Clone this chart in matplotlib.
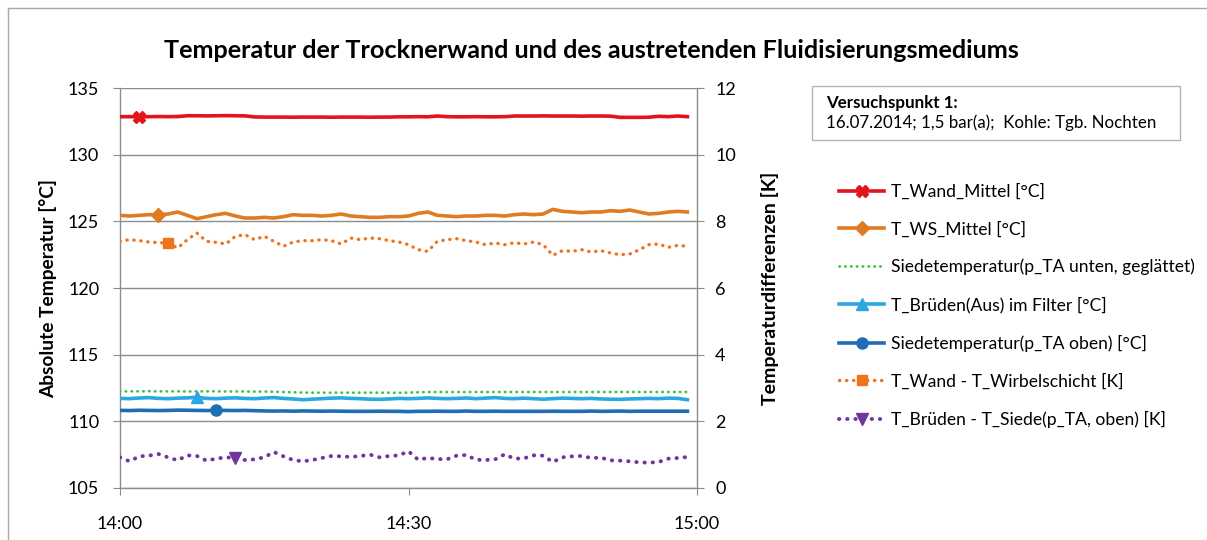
import matplotlib
matplotlib.use("Agg")
from matplotlib import pyplot as plt
import matplotlib.dates as mdates
from matplotlib.lines import Line2D
from matplotlib.patches import Rectangle
import numpy as np
import pandas as pd

plt.rcParams["font.family"] = ["Lato", "DejaVu Sans"]

# one reading per minute, 14:00 - 14:59
zeit = pd.date_range("2014-07-16 14:00", periods=60, freq="min")

t_wand = [132.85, 132.85, 132.84, 132.85, 132.86, 132.85, 132.86, 132.92, 132.92, 132.91,
          132.92, 132.93, 132.92, 132.91, 132.83, 132.82, 132.82, 132.82, 132.81, 132.82,
          132.82, 132.82, 132.81, 132.82, 132.82, 132.82, 132.81, 132.82, 132.82, 132.84,
          132.84, 132.85, 132.84, 132.9, 132.85, 132.84, 132.84, 132.85, 132.84, 132.84,
          132.85, 132.9, 132.9, 132.9, 132.91, 132.9, 132.9, 132.9, 132.89, 132.9,
          132.9, 132.89, 132.8, 132.8, 132.8, 132.81, 132.88, 132.85, 132.9, 132.85]

t_ws = [125.45, 125.4, 125.45, 125.5, 125.5, 125.55, 125.7, 125.45, 125.2, 125.35,
        125.5, 125.6, 125.4, 125.25, 125.25, 125.3, 125.25, 125.35, 125.5, 125.45,
        125.45, 125.4, 125.45, 125.55, 125.4, 125.35, 125.3, 125.3, 125.35, 125.35,
        125.4, 125.6, 125.7, 125.45, 125.4, 125.35, 125.4, 125.4, 125.45, 125.45,
        125.4, 125.5, 125.55, 125.5, 125.55, 125.9, 125.75, 125.7, 125.65, 125.7,
        125.7, 125.8, 125.75, 125.85, 125.7, 125.55, 125.6, 125.7, 125.75, 125.7]

t_siede_unten = [112.25, 112.25, 112.25, 112.26, 112.25, 112.25, 112.25, 112.24, 112.25, 112.25,
                 112.25, 112.24, 112.24, 112.24, 112.23, 112.23, 112.22, 112.2, 112.18, 112.16,
                 112.15, 112.15, 112.15, 112.15, 112.15, 112.15, 112.15, 112.15, 112.15, 112.14,
                 112.16, 112.18, 112.2, 112.2, 112.2, 112.2, 112.2, 112.2, 112.2, 112.2,
                 112.2, 112.2, 112.2, 112.2, 112.2, 112.2, 112.2, 112.2, 112.2, 112.2,
                 112.2, 112.2, 112.2, 112.2, 112.2, 112.2, 112.2, 112.2, 112.2, 112.2]

t_brueden = [111.72, 111.7, 111.75, 111.78, 111.72, 111.7, 111.74, 111.76, 111.8, 111.72,
             111.7, 111.74, 111.76, 111.72, 111.7, 111.75, 111.78, 111.72, 111.68, 111.62,
             111.66, 111.7, 111.74, 111.76, 111.72, 111.7, 111.66, 111.65, 111.68, 111.72,
             111.7, 111.72, 111.76, 111.72, 111.7, 111.72, 111.75, 111.7, 111.74, 111.78,
             111.72, 111.7, 111.74, 111.7, 111.66, 111.7, 111.74, 111.72, 111.7, 111.72,
             111.68, 111.66, 111.65, 111.68, 111.7, 111.72, 111.7, 111.74, 111.72, 111.62]

t_siede_oben = [110.82, 110.81, 110.83, 110.82, 110.81, 110.82, 110.84, 110.83, 110.82, 110.81,
                110.82, 110.82, 110.81, 110.82, 110.8, 110.78, 110.77, 110.78, 110.76, 110.78,
                110.77, 110.76, 110.77, 110.76, 110.75, 110.75, 110.75, 110.76, 110.75, 110.75,
                110.73, 110.75, 110.75, 110.76, 110.75, 110.75, 110.77, 110.75, 110.75, 110.76,
                110.75, 110.75, 110.75, 110.75, 110.75, 110.76, 110.75, 110.75, 110.75, 110.77,
                110.75, 110.76, 110.77, 110.75, 110.76, 110.76, 110.76, 110.76, 110.76, 110.76]

# differences, right axis [K]
dt_wand_ws = [7.4, 7.45, 7.42, 7.38, 7.36, 7.35, 7.2, 7.45, 7.65, 7.4,
              7.37, 7.32, 7.55, 7.6, 7.45, 7.55, 7.4, 7.25, 7.38, 7.42,
              7.42, 7.45, 7.42, 7.32, 7.5, 7.45, 7.5, 7.48, 7.42, 7.38,
              7.3, 7.15, 7.1, 7.4, 7.45, 7.48, 7.42, 7.38, 7.3, 7.35,
              7.3, 7.36, 7.32, 7.38, 7.3, 6.98, 7.12, 7.1, 7.15, 7.08,
              7.12, 7.05, 7.0, 7.02, 7.15, 7.3, 7.32, 7.22, 7.28, 7.25]

dt_brueden_siede = [0.92, 0.8, 0.95, 0.97, 1.02, 0.92, 0.83, 0.98, 0.96, 0.82,
                    0.88, 0.92, 0.9, 0.84, 0.86, 0.92, 1.08, 0.95, 0.84, 0.8,
                    0.84, 0.9, 0.96, 0.95, 0.93, 0.96, 1.0, 0.92, 0.96, 0.98,
                    1.1, 0.85, 0.9, 0.87, 0.86, 0.97, 0.99, 0.85, 0.84, 0.86,
                    1.01, 0.88, 0.89, 0.98, 0.97, 0.78, 0.92, 0.95, 0.96, 0.9,
                    0.91, 0.83, 0.82, 0.8, 0.77, 0.76, 0.78, 0.88, 0.9, 0.93]

grau = "#8c8c8c"
dots = (0, (0.1, 2.0))

fig = plt.figure(figsize=(12.07, 5.40), dpi=100)
ax = fig.add_axes([0.0994, 0.0963, 0.4781, 0.7407])
ax2 = ax.twinx()

# left axis: absolute temperatures
ax.plot(zeit, t_wand, color="#E3141B", lw=2.6, marker="X", ms=9, markevery=[2],
        label="T_Wand_Mittel [°C]", zorder=5)
ax.plot(zeit, t_ws, color="#E07B24", lw=2.6, marker="D", ms=7, markevery=[4],
        label="T_WS_Mittel [°C]", zorder=5)
ax.plot(zeit, t_siede_unten, color="#3CC13C", lw=2.0, ls=dots, dash_capstyle="round",
        label="Siedetemperatur(p_TA unten, geglättet)", zorder=4)
ax.plot(zeit, t_brueden, color="#2AA8E0", lw=2.6, marker="^", ms=8, markevery=[8],
        label="T_Brüden(Aus) im Filter [°C]", zorder=5)
ax.plot(zeit, t_siede_oben, color="#1F6DB5", lw=2.6, marker="o", ms=8, markevery=[10],
        label="Siedetemperatur(p_TA oben) [°C]", zorder=5)

# right axis: differences
ax2.plot(zeit, dt_wand_ws, color="#F0731C", lw=2.4, ls=dots, dash_capstyle="round",
         marker="s", ms=7, markevery=[5], label="T_Wand - T_Wirbelschicht [K]")
ax2.plot(zeit, dt_brueden_siede, color="#7035A0", lw=2.8, ls=dots, dash_capstyle="round",
         marker="v", ms=8, markevery=[12], label="T_Brüden - T_Siede(p_TA, oben) [K]")

start = pd.Timestamp("2014-07-16 14:00")
ax.set_xlim(start, start + pd.Timedelta(minutes=60))
ax.set_xticks([start, start + pd.Timedelta(minutes=30), start + pd.Timedelta(minutes=60)])
ax.xaxis.set_major_formatter(mdates.DateFormatter("%H:%M"))

ax.set_ylim(105, 135)
ax.set_yticks(np.arange(105, 136, 5))
ax2.set_ylim(0, 12)
ax2.set_yticks(np.arange(0, 13, 2))

ax.grid(axis="y", color=grau, lw=1.0)
ax.set_axisbelow(True)
for a in (ax, ax2):
    a.spines["top"].set_visible(False)
    for s in ("left", "right", "bottom"):
        a.spines[s].set_color(grau)
        a.spines[s].set_linewidth(1.0)
ax.spines["right"].set_visible(False)
ax2.spines["left"].set_visible(False)
ax2.spines["bottom"].set_visible(False)

ax.tick_params(axis="y", length=5, color=grau, labelsize=13, pad=10)
ax.tick_params(axis="x", length=5, color=grau, labelsize=13, pad=15)
ax2.tick_params(axis="y", length=5, color=grau, labelsize=13, pad=8)

ax.set_ylabel("Absolute Temperatur [°C]", fontsize=13.8, fontweight="bold", labelpad=8)
ax2.set_ylabel("Temperaturdifferenzen [K]", fontsize=14, fontweight="bold", labelpad=18)

fig.suptitle("Temperatur der Trocknerwand und des austretenden Fluidisierungsmediums",
             x=0.49, y=1 - 50 / 540, va="center", fontsize=18.2, fontweight="bold")

# info box
fig.add_artist(Rectangle((812 / 1207, 1 - 140 / 540), 368 / 1207, 54 / 540,
                         transform=fig.transFigure, fill=False, edgecolor="#b4b4b4", lw=1.0))
fig.text(826 / 1207, 1 - 103 / 540, "Versuchspunkt 1:", fontsize=12.2, fontweight="bold",
         va="center")
fig.text(826 / 1207, 1 - 123 / 540, "16.07.2014; 1,5 bar(a);  Kohle: Tgb. Nochten",
         fontsize=12.2, va="center")

h1, l1 = ax.get_legend_handles_labels()
h2, l2 = ax2.get_legend_handles_labels()
fig.legend(h1 + h2, l1 + l2, loc="upper left", bbox_to_anchor=(823 / 1207, 1 - 168 / 540),
           frameon=False, fontsize=12.6, handlelength=2.6, handletextpad=0.4,
           labelspacing=1.22, numpoints=1)

# outer chart frame
fig.add_artist(Line2D([8 / 1207, 8 / 1207], [0, 1 - 8 / 540], transform=fig.transFigure,
                      color="#a8a8a8", lw=1.0))
fig.add_artist(Line2D([8 / 1207, 1], [1 - 8 / 540, 1 - 8 / 540], transform=fig.transFigure,
                      color="#a8a8a8", lw=1.0))

plt.savefig("out.png", dpi=100)
